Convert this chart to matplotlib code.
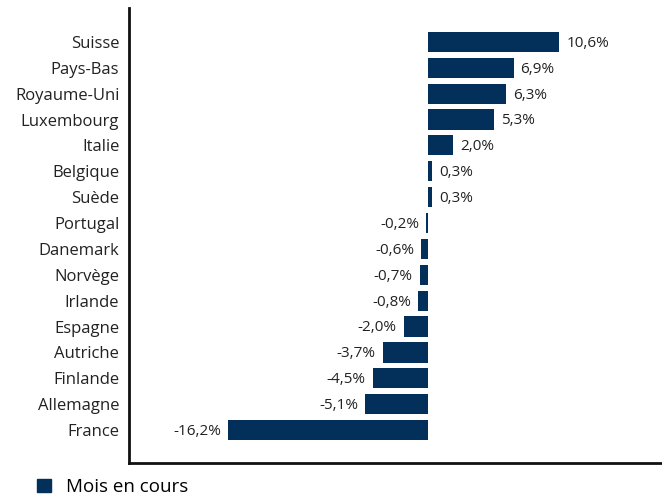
import matplotlib.pyplot as plt
from matplotlib.patches import Patch

plt.rcParams['font.family'] = ['Open Sans', 'DejaVu Sans']

pays = ['Suisse', 'Pays-Bas', 'Royaume-Uni', 'Luxembourg', 'Italie', 'Belgique',
        'Suède', 'Portugal', 'Danemark', 'Norvège', 'Irlande', 'Espagne',
        'Autriche', 'Finlande', 'Allemagne', 'France']
valeurs = [10.6, 6.9, 6.3, 5.3, 2.0, 0.3, 0.3, -0.2, -0.6, -0.7, -0.8, -2.0,
           -3.7, -4.5, -5.1, -16.2]
couleur = '#02305a'

fig = plt.figure(figsize=(6.62, 4.97), dpi=100)
ax = fig.add_axes([0.195, 0.068, 0.805, 0.916])

y = range(len(pays))
ax.barh(y, valeurs, height=0.78, color=couleur)

for i, v in zip(y, valeurs):
    txt = f'{v:.1f}%'.replace('.', ',')
    if v >= 0:
        ax.annotate(txt, (v, i), xytext=(5, -1), textcoords='offset points',
                    ha='left', va='center', fontsize=11, color='#222222')
    else:
        ax.annotate(txt, (v, i), xytext=(-5, -1), textcoords='offset points',
                    ha='right', va='center', fontsize=11, color='#222222')

ax.set_yticks(list(y))
ax.set_yticklabels(pays, fontsize=12, color='#222222')
ax.tick_params(axis='y', length=0, pad=7)
ax.set_xticks([])
ax.set_xlim(-24.2, 18.9)
ax.set_ylim(len(pays) - 1 + 1.28, -1.31)

for s in ['top', 'right']:
    ax.spines[s].set_visible(False)
for s in ['left', 'bottom']:
    ax.spines[s].set_linewidth(2)
    ax.spines[s].set_color('#111111')

fig.legend(handles=[Patch(color=couleur, label='Mois en cours')],
           loc='lower left', bbox_to_anchor=(0.031, -0.032), frameon=False,
           fontsize=13.5, handlelength=0.75, handleheight=0.75, handletextpad=0.8)

fig.savefig('out.png', dpi=100)
